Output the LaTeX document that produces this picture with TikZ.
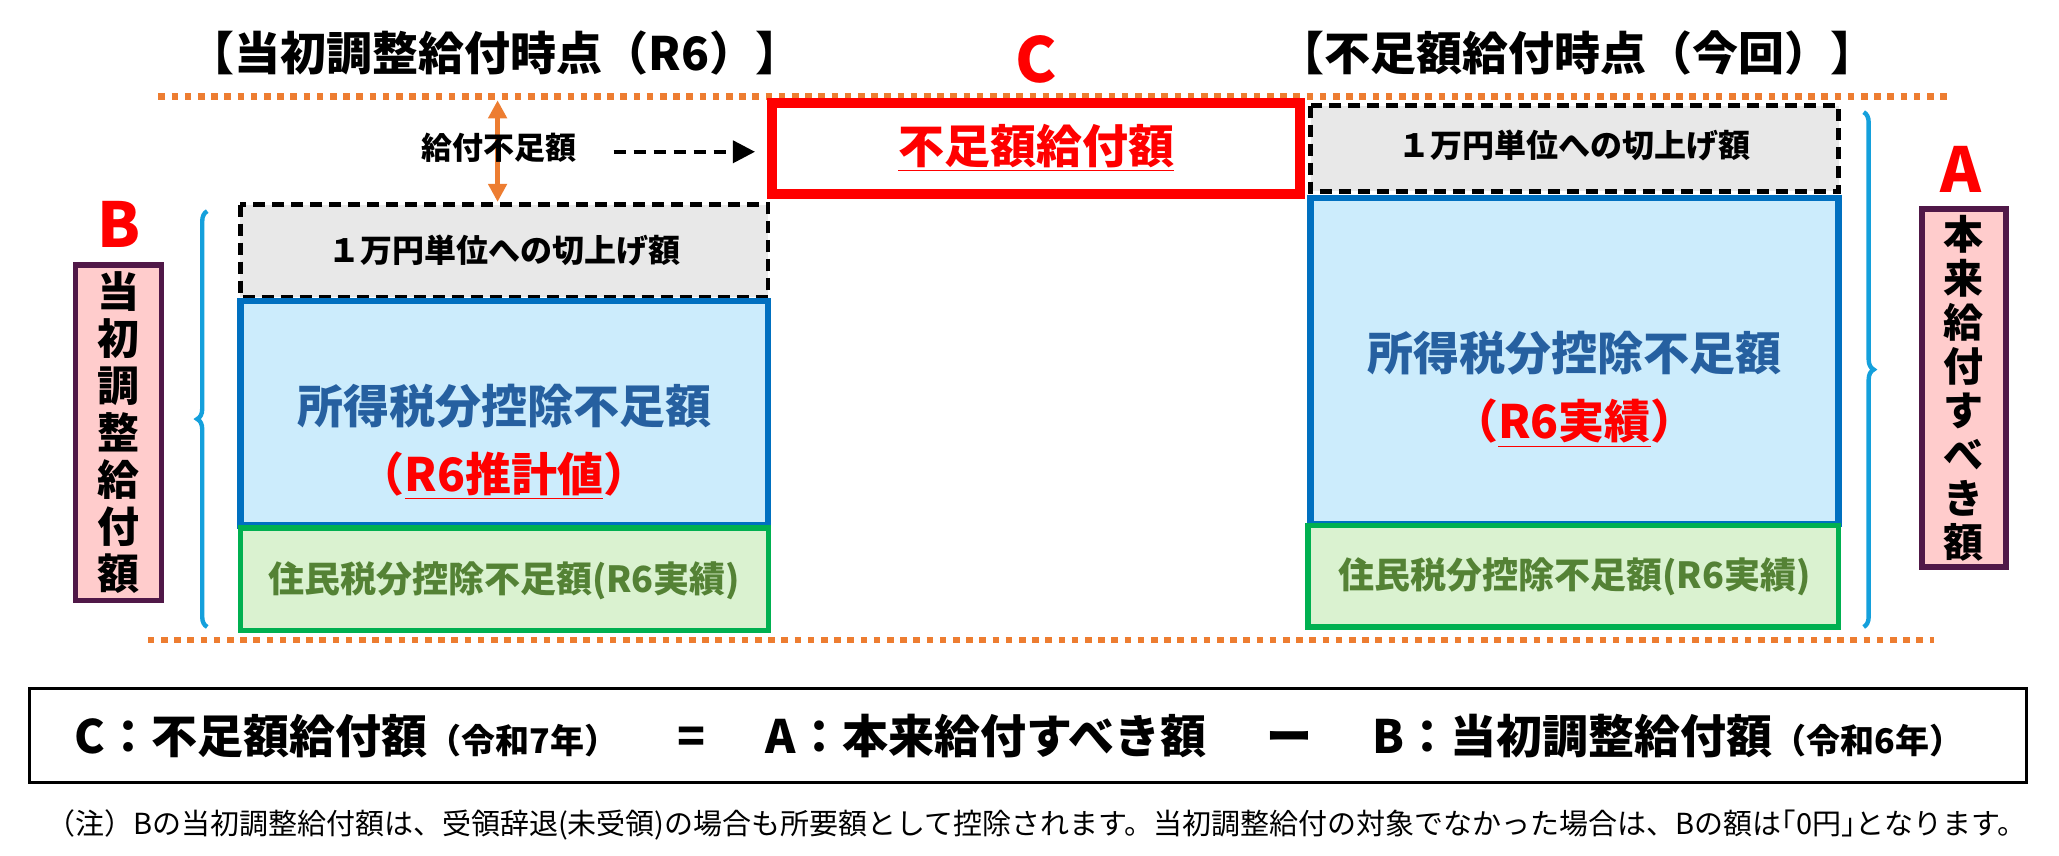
\documentclass[tikz,border=0pt]{standalone}
\usepackage{fontspec}
\setmainfont{Noto Sans CJK JP}
\usetikzlibrary{positioning, decorations.pathreplacing, arrows.meta}
\definecolor{dotorange}{RGB}{237,125,49}
\definecolor{boxblue}{RGB}{0,112,192}
\definecolor{txtblue}{RGB}{38,96,160}
\definecolor{boxgreen}{RGB}{0,176,80}
\definecolor{txtgreen}{RGB}{84,130,53}
\definecolor{fillblue}{RGB}{204,236,252}
\definecolor{fillgreen}{RGB}{218,242,208}
\definecolor{fillgray}{RGB}{232,232,232}
\definecolor{fillpink}{RGB}{255,204,204}
\definecolor{edgeplum}{RGB}{80,24,72}
\definecolor{bracecyan}{RGB}{20,160,220}
\tikzset{
  dotline/.style={dotorange, line width=3.3pt, dash pattern=on 3.3pt off 3.3pt},
  roundbox/.style={draw=black, fill=fillgray, line width=2.3pt, dash pattern=on 6pt off 3.5pt},
  shotbox/.style={draw=boxblue, fill=fillblue, line width=3.3pt},
  residbox/.style={draw=boxgreen, fill=fillgreen, line width=2.6pt},
  sidebox/.style={draw=edgeplum, fill=fillpink, line width=2.6pt, inner sep=0pt, font=\fontsize{21}{23.5}\selectfont\bfseries, align=center},
  tag/.style={red, font=\fontsize{31}{34}\selectfont\bfseries},
  side brace/.style={bracecyan, line width=2.2pt, decorate, decoration={brace, amplitude=5pt}},
}
\begin{document}
\begin{tikzpicture}[x=0.66pt, y=-0.66pt]
  \useasboundingbox (0,0) rectangle (1560,648);

  % Titles and labels
  \node (tl) at (375,40) {\fontsize{23}{26}\selectfont\bfseries 【当初調整給付時点（R6）】};
  \node (tr) at (1195,40) {\fontsize{23}{26}\selectfont\bfseries 【不足額給付時点（今回）】};
  \node[tag] (lc) at (785,45) {C};
  \node[tag] (lb) at (90,170) {B};
  \node[tag] (la) at (1486,128) {A};

  % Dotted limits
  \draw[dotline] (120,73) -- (1478,73);
  \draw[dotline] (112,485) -- (1465,485);

  % Left column
  \draw[roundbox] (182,155) rectangle (582,225);
  \node (lr) at (382,190) {\fontsize{16}{19}\selectfont\bfseries １万円単位への切上げ額};
  \draw[shotbox] (182,228) rectangle (582,398);
  \node[txtblue, align=center, font=\fontsize{23}{34}\selectfont\bfseries] (ls) at (382,335)
    {所得税分控除不足額\\{\color{red}（\underline{R6推計値}）}};
  \draw[residbox] (182,400) rectangle (582,478);
  \node[txtgreen] (lg) at (382,440) {\fontsize{18}{21}\selectfont\bfseries 住民税分控除不足額(R6実績)};
  \node[sidebox, minimum width=43pt, minimum height=168pt] (lbox) at (90,328)
    {当\\初\\調\\整\\給\\付\\額};
  \draw[side brace] (157,475) -- (157,160);

  % Gap and shortfall
  \coordinate (gtop) at (377,76);
  \coordinate (gbot) at (377,153);
  \draw[dotorange, line width=2.4pt, {Triangle[length=9pt,width=9pt]}-{Triangle[length=9pt,width=9pt]}] (gtop) -- (gbot);
  \node (gap) at (378,112) {\fontsize{15.5}{18}\selectfont\bfseries 給付不足額};
  \draw[red, line width=5pt] (585,78) rectangle (985,147);
  \node[red] (ct) at (785,112) {\fontsize{23}{26}\selectfont\bfseries \underline{不足額給付額}};
  \draw[line width=1.8pt, dash pattern=on 6pt off 4pt, -{Triangle[length=11pt,width=11pt]}] (465,115) -- (585-13,115);

  % Right column
  \draw[roundbox] (993,80) rectangle (1393,145);
  \node (rr) at (1193,110) {\fontsize{16}{19}\selectfont\bfseries １万円単位への切上げ額};
  \draw[shotbox] (993,150) rectangle (1393,397);
  \node[txtblue, align=center, font=\fontsize{23}{34}\selectfont\bfseries] (rs) at (1193,295)
    {所得税分控除不足額\\{\color{red}（\underline{R6実績}）}};
  \draw[residbox] (991,398) rectangle (1393,475);
  \node[txtgreen] (rg) at (1193,437) {\fontsize{18}{21}\selectfont\bfseries 住民税分控除不足額(R6実績)};
  \draw[side brace] (1412,85) -- (1412,475);
  \node[sidebox, minimum width=42pt, minimum height=179pt, font=\fontsize{20}{22}\selectfont\bfseries] (rbox) at (1488,294)
    {本\\来\\給\\付\\す\\べ\\き\\額};

  % Formula and note
  \draw[black, line width=1.5pt] (22,522) rectangle (1535,593);
  \node (eq) at (772,558) {\fontsize{23}{26}\selectfont\bfseries
    C：不足額給付額{\fontsize{17}{20}\selectfont（令和7年）}\hspace{1.3em}=\hspace{1.3em}A：本来給付すべき額\hspace{1.3em}ー\hspace{1.3em}B：当初調整給付額{\fontsize{17}{20}\selectfont（令和6年）}};
  \node (note) at (785,625) {\fontsize{14.5}{17}\selectfont （注）Bの当初調整給付額は、受領辞退(未受領)の場合も所要額として控除されます。当初調整給付の対象でなかった場合は、Bの額は｢0円｣となります。};
\end{tikzpicture}
\end{document}
